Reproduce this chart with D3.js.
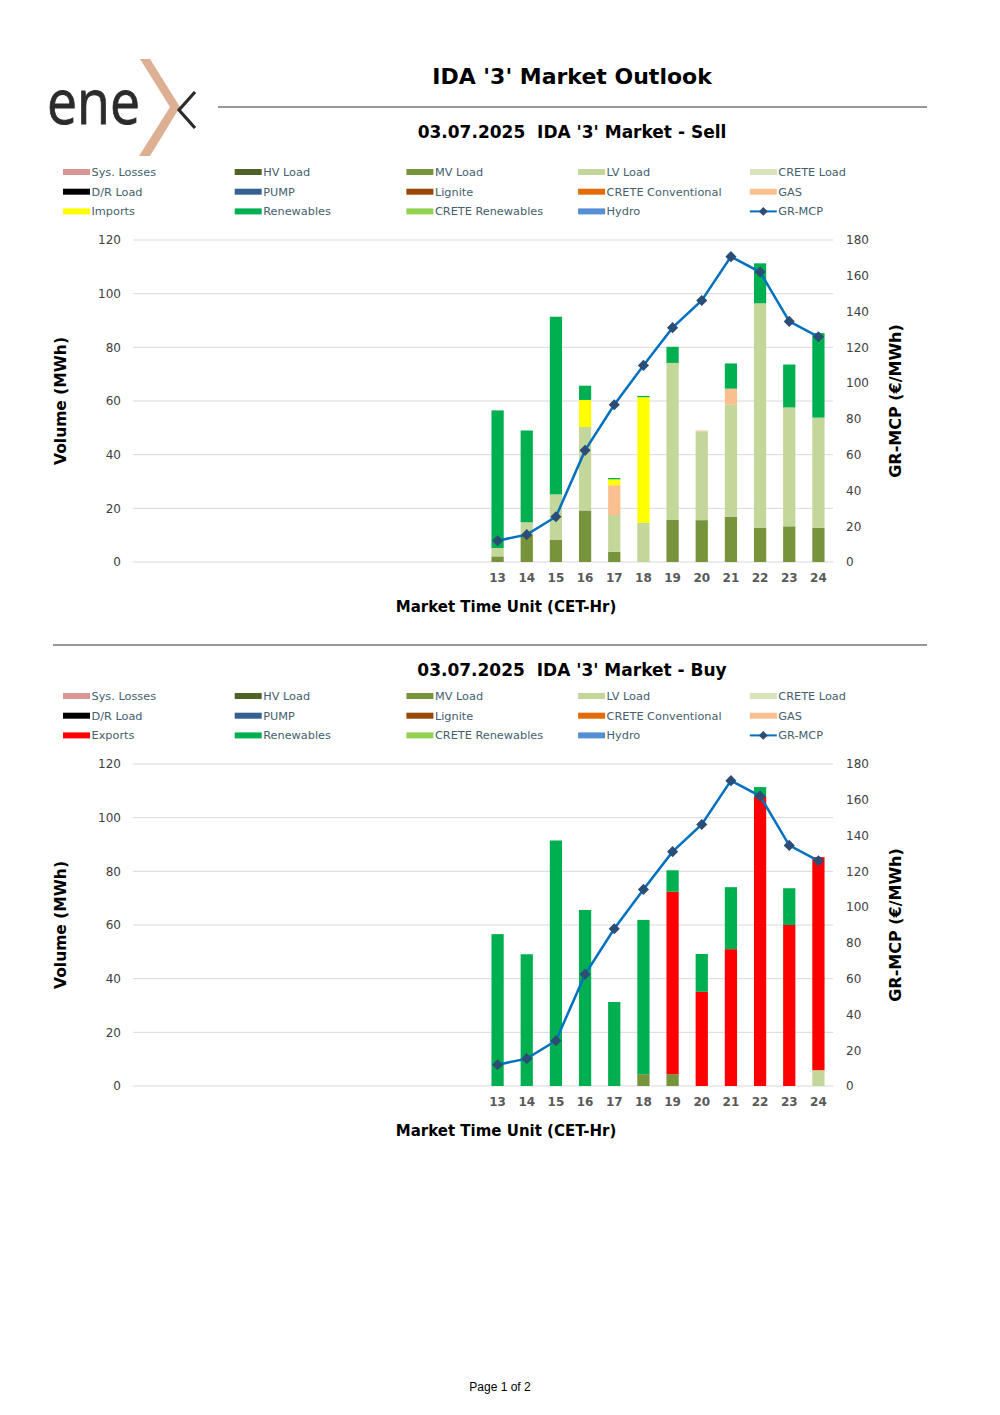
<!DOCTYPE html>
<html>
<head>
<meta charset="utf-8">
<script src="https://cdn.jsdelivr.net/npm/d3@7"></script>
<style>
  body { margin: 0; background: #fff; }
  svg text { font-family: "DejaVu Sans", sans-serif; }
</style>
</head>
<body>
<div id="page"></div>
<script>
// hours of the day, only 13-24 traded in this session
var hours = d3.range(1, 25);
var tradedHours = [13, 14, 15, 16, 17, 18, 19, 20, 21, 22, 23, 24];

// GR-MCP (€/MWh)
var grMcp = [11.9, 15.3, 25.3, 62.4, 87.9, 109.9, 131.0, 146.2, 170.7, 162.1, 134.5, 125.9];

// Sell side volumes (MWh)
var sellMvLoad     = [2.1, 10.2, 8.2, 19.2, 3.8, 0, 15.8, 15.6, 16.9, 12.8, 13.3, 12.7];
var sellLvLoad     = [3.1, 4.6, 17.0, 31.1, 13.7, 14.6, 58.4, 33.1, 41.7, 83.6, 44.3, 41.1];
var sellGas        = [0, 0, 0, 0, 11.1, 0, 0, 0.3, 6.0, 0, 0, 0];
var sellImports    = [0, 0, 0, 10.1, 2.2, 46.8, 0, 0, 0, 0, 0, 0];
var sellRenewables = [51.3, 34.2, 66.2, 5.3, 0.5, 0.5, 6.0, 0, 9.4, 14.9, 16.0, 31.5];

// Buy side volumes (MWh)
var buyMvLoad     = [0, 0, 0, 0, 0, 4.4, 4.4, 0, 0, 0, 0, 0];
var buyLvLoad     = [0, 0, 0, 0, 0, 0, 0, 0, 0, 0, 0, 5.9];
var buyExports    = [0, 0, 0, 0, 0, 0, 68.0, 35.1, 51.0, 107.7, 60.0, 79.4];
var buyRenewables = [56.6, 49.1, 91.5, 65.6, 31.3, 57.5, 8.0, 14.1, 23.1, 3.7, 13.7, 0];

var volumeTicks = [0, 20, 40, 60, 80, 100, 120];
var priceTicks = [0, 20, 40, 60, 80, 100, 120, 140, 160, 180];

var colors = {
  "Sys. Losses": "#DA9694", "HV Load": "#4F6228", "MV Load": "#77933C",
  "LV Load": "#C4D79B", "CRETE Load": "#D8E4BC", "D/R Load": "#000000",
  "PUMP": "#366092", "Lignite": "#974706", "CRETE Conventional": "#E26B0A",
  "GAS": "#FABF8F", "Imports": "#FFFF00", "Exports": "#FF0000",
  "Renewables": "#00B050", "CRETE Renewables": "#92D050", "Hydro": "#558ED5"
};

var width = 1000, height = 1415;
var svg = d3.select("#page").append("svg")
  .attr("width", width)
  .attr("height", height);

// logo
var logo = svg.append("g");
logo.append("text")
  .attr("x", 47).attr("y", 124)
  .attr("textLength", 93).attr("lengthAdjust", "spacingAndGlyphs")
  .style("font-family", "'Open Sans', sans-serif")
  .style("font-size", "62px")
  .attr("fill", "#2b2b2b")
  .attr("stroke", "#2b2b2b").attr("stroke-width", 0.8)
  .text("ene");
logo.append("path")
  .attr("d", "M140,59 L150,59 L180,107 L150,156 L139,156 L170,107 Z")
  .attr("fill", "#DDB094");
logo.append("path")
  .attr("d", "M195,92 L179,110 L195,128")
  .attr("fill", "none").attr("stroke", "#2b2b2b").attr("stroke-width", 3.2);

svg.append("text")
  .attr("x", 572).attr("y", 84)
  .attr("text-anchor", "middle")
  .style("font-size", "22px").style("font-weight", "bold")
  .text("IDA '3' Market Outlook");

svg.append("line")
  .attr("x1", 218).attr("x2", 927).attr("y1", 107).attr("y2", 107)
  .attr("stroke", "#333").attr("stroke-width", 1.2);

svg.append("line")
  .attr("x1", 53).attr("x2", 927).attr("y1", 645).attr("y2", 645)
  .attr("stroke", "#333").attr("stroke-width", 1.2);

svg.append("text")
  .attr("x", 500).attr("y", 1391)
  .attr("text-anchor", "middle")
  .style("font-family", "'Liberation Sans', Arial, sans-serif")
  .style("font-size", "12px")
  .text("Page 1 of 2");

function drawPanel(opts) {
  var top = opts.top;
  var g = svg.append("g");

  g.append("text")
    .attr("x", 572).attr("y", opts.titleY)
    .attr("text-anchor", "middle")
    .style("font-size", "17px").style("font-weight", "bold")
    .style("white-space", "pre")
    .text(opts.title);

  // legend
  var legendKeys = ["Sys. Losses", "HV Load", "MV Load", "LV Load", "CRETE Load",
    "D/R Load", "PUMP", "Lignite", "CRETE Conventional", "GAS",
    opts.flowKey, "Renewables", "CRETE Renewables", "Hydro", "GR-MCP"];
  var legend = g.append("g").attr("transform", "translate(0," + (top + 80) + ")");
  var item = legend.selectAll("g").data(legendKeys).enter().append("g")
    .attr("transform", function (d, i) {
      return "translate(" + (63 + (i % 5) * 171.7) + "," + Math.floor(i / 5) * 19.7 + ")";
    });
  item.each(function (d) {
    var s = d3.select(this);
    if (d === "GR-MCP") {
      s.append("line").attr("x1", 0).attr("x2", 27).attr("y1", 0).attr("y2", 0)
        .attr("stroke", "#0070C0").attr("stroke-width", 2);
      s.append("path").attr("d", d3.symbol(d3.symbolSquare, 40)())
        .attr("transform", "translate(13.5,0) rotate(45)")
        .attr("fill", "#2C4D75");
    } else {
      s.append("rect").attr("x", 0).attr("y", -3).attr("width", 27).attr("height", 6)
        .attr("fill", colors[d]);
    }
  });
  item.append("text")
    .attr("x", 28.5).attr("y", 4)
    .style("font-size", "11.3px")
    .attr("fill", "#44606E")
    .text(function (d) { return d; });

  // scales
  var plotTop = top + 148, plotBottom = top + 470;
  var x = d3.scaleBand().domain(hours).range([133, 833]).paddingInner(0.58).paddingOuter(0.29);
  var y = d3.scaleLinear().domain([0, 120]).range([plotBottom, plotTop]);
  var y2 = d3.scaleLinear().domain([0, 180]).range([plotBottom, plotTop]);

  g.append("g").selectAll("line").data(volumeTicks).enter().append("line")
    .attr("x1", 133).attr("x2", 833)
    .attr("y1", function (d) { return y(d); }).attr("y2", function (d) { return y(d); })
    .attr("stroke", "#D9D9D9").attr("stroke-width", 1);

  var leftAxis = g.append("g")
    .attr("transform", "translate(133,0)")
    .call(d3.axisLeft(y).tickValues(volumeTicks).tickSize(0).tickPadding(12));
  var rightAxis = g.append("g")
    .attr("transform", "translate(833,0)")
    .call(d3.axisRight(y2).tickValues(priceTicks).tickSize(0).tickPadding(13));
  var bottomAxis = g.append("g")
    .attr("transform", "translate(0," + plotBottom + ")")
    .call(d3.axisBottom(x).tickSize(0).tickPadding(11)
      .tickFormat(function (h) { return tradedHours.indexOf(h) >= 0 ? h : ""; }));
  [leftAxis, rightAxis, bottomAxis].forEach(function (a) {
    a.select(".domain").remove();
    a.selectAll("text")
      .style("font-family", "'DejaVu Sans', sans-serif")
      .style("font-size", "12px")
      .attr("fill", "#404040");
  });
  bottomAxis.selectAll("text").style("font-weight", "bold").attr("fill", "#595959");

  // stacked bars
  var rows = tradedHours.map(function (h, i) {
    var r = { hour: h };
    opts.keys.forEach(function (k) { r[k] = opts.series[k][i]; });
    return r;
  });
  var stacked = d3.stack().keys(opts.keys)(rows);
  g.append("g").selectAll("g").data(stacked).enter().append("g")
    .attr("fill", function (d) { return colors[d.key]; })
    .selectAll("rect").data(function (d) { return d; }).enter().append("rect")
    .attr("x", function (d) { return x(d.data.hour); })
    .attr("width", x.bandwidth())
    .attr("y", function (d) { return y(d[1]); })
    .attr("height", function (d) { return y(d[0]) - y(d[1]); });

  // price line
  var line = d3.line()
    .x(function (d, i) { return x(tradedHours[i]) + x.bandwidth() / 2; })
    .y(function (d) { return y2(d); });
  g.append("path")
    .datum(grMcp)
    .attr("d", line)
    .attr("fill", "none")
    .attr("stroke", "#0070C0")
    .attr("stroke-width", 2.5);
  g.append("g").selectAll("path").data(grMcp).enter().append("path")
    .attr("d", d3.symbol(d3.symbolSquare, 62)())
    .attr("transform", function (d, i) {
      return "translate(" + (x(tradedHours[i]) + x.bandwidth() / 2) + "," + y2(d) + ") rotate(45)";
    })
    .attr("fill", "#2C4D75");

  // axis titles
  g.append("text")
    .attr("transform", "translate(66," + (plotTop + 161) + ") rotate(-90)")
    .attr("text-anchor", "middle")
    .style("font-size", "15.5px").style("font-weight", "bold")
    .text("Volume (MWh)");
  g.append("text")
    .attr("transform", "translate(901," + (plotTop + 161) + ") rotate(-90)")
    .attr("text-anchor", "middle")
    .style("font-size", "16px").style("font-weight", "bold")
    .text("GR-MCP (€/MWh)");
  g.append("text")
    .attr("x", 506).attr("y", plotBottom + 50)
    .attr("text-anchor", "middle")
    .style("font-size", "15px").style("font-weight", "bold")
    .text("Market Time Unit (CET-Hr)");
}

drawPanel({
  top: 92,
  titleY: 138,
  title: "03.07.2025  IDA '3' Market - Sell",
  flowKey: "Imports",
  keys: ["MV Load", "LV Load", "GAS", "Imports", "Renewables"],
  series: {
    "MV Load": sellMvLoad, "LV Load": sellLvLoad, "GAS": sellGas,
    "Imports": sellImports, "Renewables": sellRenewables
  }
});

drawPanel({
  top: 616,
  titleY: 676,
  title: "03.07.2025  IDA '3' Market - Buy",
  flowKey: "Exports",
  keys: ["MV Load", "LV Load", "Exports", "Renewables"],
  series: {
    "MV Load": buyMvLoad, "LV Load": buyLvLoad,
    "Exports": buyExports, "Renewables": buyRenewables
  }
});
</script>
</body>
</html>
